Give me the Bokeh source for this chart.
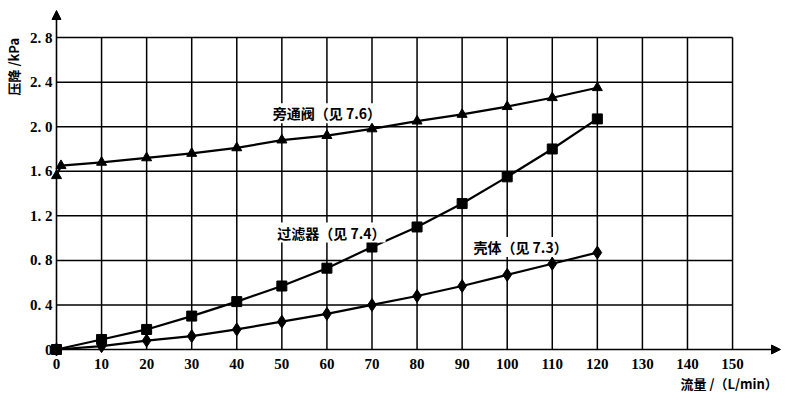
import math
from bokeh.plotting import figure
from bokeh.models import Label, Arrow, NormalHead
from bokeh.core.properties import value
from bokeh.embed import file_html
from bokeh.resources import INLINE

# ---- data ----
x_ticks = [0, 10, 20, 30, 40, 50, 60, 70, 80, 90, 100, 110, 120, 130, 140, 150]
x_tick_labels = ["0", "10", "20", "30", "40", "50", "60", "70", "80", "90", "100", "110", "120", "130", "140", "150"]
y_ticks = [0, 0.4, 0.8, 1.2, 1.6, 2.0, 2.4, 2.8]
y_tick_labels = ["0", "0. 4", "0. 8", "1. 2", "1. 6", "2. 0", "2. 4", "2. 8"]

bypass_x = [0, 1, 10, 20, 30, 40, 50, 60, 70, 80, 90, 100, 110, 120]
bypass_y = [1.56, 1.65, 1.68, 1.72, 1.76, 1.81, 1.88, 1.92, 1.98, 2.05, 2.11, 2.18, 2.26, 2.35]

flow = [0, 10, 20, 30, 40, 50, 60, 70, 80, 90, 100, 110, 120]
filter_y = [0, 0.09, 0.18, 0.30, 0.43, 0.57, 0.73, 0.92, 1.10, 1.31, 1.55, 1.80, 2.07]
body_y = [0, 0.03, 0.08, 0.12, 0.18, 0.25, 0.32, 0.40, 0.48, 0.57, 0.67, 0.77, 0.87]

label_bypass = "旁通阀（见 7.6）"
label_filter = "过滤器（见 7.4）"
label_body = "壳体（见 7.3）"
y_title = "压降 /kPa"
x_title = "流量 /（L/min）"

CJK = "Noto Sans CJK SC"
SERIF = "Liberation Serif"

# pixel scale: 0 -> px 56, 1 unit x = 4.507 px ; 0 -> py 349, 1 unit y = 111.4 px
W, H = 784, 392
sx, sy = 4.507, 111.4
x0px, y0px = 56, 349
x_rng = (-x0px / sx, (W - x0px) / sx)
y_rng = (-(H - y0px) / sy, y0px / sy)

p = figure(width=W, height=H, output_backend="svg", toolbar_location=None,
           x_range=x_rng, y_range=y_rng, min_border=0)
p.outline_line_color = None
p.axis.visible = False
p.xgrid.visible = False
p.ygrid.visible = False
p.background_fill_color = "white"

xmax = x_ticks[-1]
ymax = y_ticks[-1]
nx = len(x_ticks) - 1
ny = len(y_ticks) - 1
# grid bounded to 150 / 2.8
p.segment(x0=x_ticks[1:], y0=[0] * nx, x1=x_ticks[1:], y1=[ymax] * nx,
          line_color="black", line_width=1.5)
p.segment(x0=[0] * ny, y0=y_ticks[1:], x1=[xmax] * ny, y1=y_ticks[1:],
          line_color="black", line_width=1.5)

# axes with arrow heads
x_arrow_end = (780 - x0px) / sx
y_arrow_end = (y0px - 10) / sy
p.add_layout(Arrow(end=NormalHead(size=9, fill_color="black", line_color="black"),
                   x_start=0, y_start=0, x_end=x_arrow_end, y_end=0,
                   line_color="black", line_width=1.6))
p.add_layout(Arrow(end=NormalHead(size=9, fill_color="black", line_color="black"),
                   x_start=0, y_start=0, x_end=0, y_end=y_arrow_end,
                   line_color="black", line_width=1.6))

# tick labels
p.text(x=x_ticks, y=[0] * len(x_ticks), text=x_tick_labels, y_offset=14,
       text_font=value(SERIF), text_font_style="bold", text_font_size="15px",
       text_align="center", text_baseline="middle", text_color="black")
p.text(x=[0] * len(y_ticks), y=y_ticks, text=y_tick_labels, x_offset=-4,
       text_font=value(SERIF), text_font_style="bold", text_font_size="15px",
       text_align="right", text_baseline="middle", text_color="black")

# series
p.line(bypass_x, bypass_y, line_color="black", line_width=2.2)
p.scatter(bypass_x, bypass_y, marker="triangle", size=10, color="black")

p.line(flow, filter_y, line_color="black", line_width=2.2)
p.scatter(flow, filter_y, marker="square", size=10, color="black")

p.line(flow, body_y, line_color="black", line_width=2.2)
p.scatter(flow, body_y, marker="diamond", size=13, color="black")

# labels
def lab(x, y, text, size="14px", **kw):
    p.add_layout(Label(x=x, y=y, text=text, text_font=CJK, text_font_size=size,
                       text_font_style="bold", text_color="black",
                       text_baseline="middle", **kw))

lab(48, 2.12, label_bypass, background_fill_color="white")
lab(49, 1.05, label_filter, background_fill_color="white")
lab(92.5, 0.92, label_body, background_fill_color="white")

lab((13 - x0px) / sx, (y0px - 95) / sy, y_title, size="13px", angle=math.pi / 2, text_align="left")
lab((680 - x0px) / sx, (y0px - 383) / sy, x_title, size="13px", text_align="left")

open("out.html", "w").write(file_html(p, INLINE))
